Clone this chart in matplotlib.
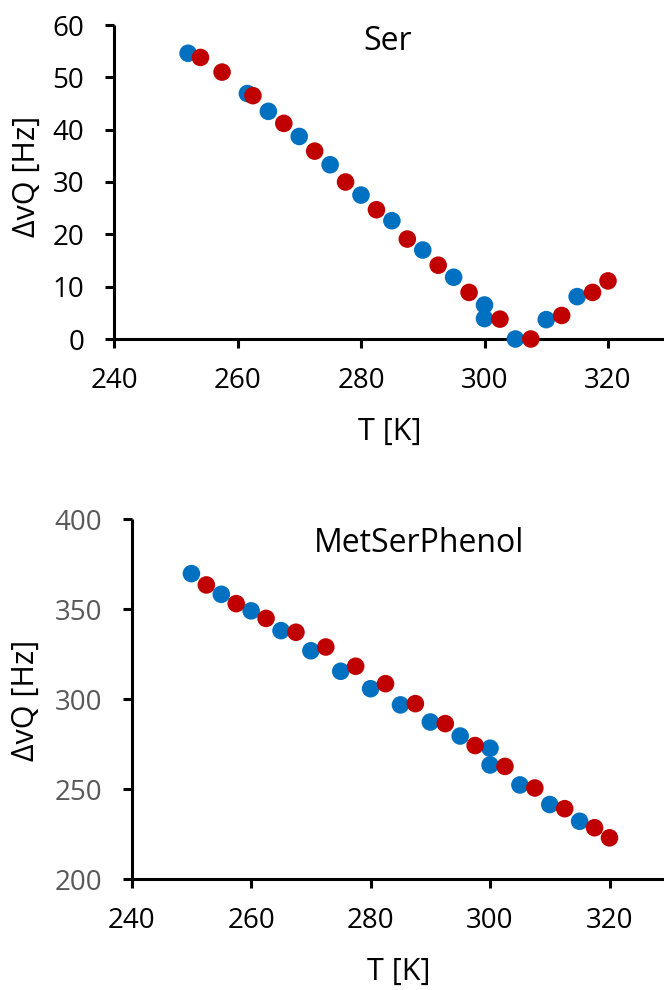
import matplotlib
matplotlib.use("Agg")
import matplotlib.pyplot as plt

# --- Ser data ---
ser_blue_T = [252.0, 261.6, 265.0, 270.0, 275.0, 280.0, 285.0, 290.0, 295.0, 300.0, 300.0, 305.0, 310.0, 315.0]
ser_blue_dv = [54.6, 46.9, 43.5, 38.7, 33.3, 27.5, 22.6, 17.0, 11.8, 6.5, 3.9, 0.0, 3.7, 8.1]
ser_red_T = [254.0, 257.5, 262.5, 267.5, 272.5, 277.5, 282.5, 287.5, 292.5, 297.5, 302.5, 307.5, 312.5, 317.5, 320.0]
ser_red_dv = [53.8, 51.0, 46.5, 41.2, 35.9, 30.0, 24.7, 19.1, 14.1, 8.9, 3.8, 0.0, 4.5, 8.9, 11.1]

# --- MetSerPhenol data ---
msp_blue_T = [250.0, 255.0, 260.0, 265.0, 270.0, 275.0, 280.0, 285.0, 290.0, 295.0, 300.0, 300.0, 305.0, 310.0, 315.0]
msp_blue_dv = [369.8, 358.3, 349.1, 338.1, 326.9, 315.5, 305.8, 296.8, 287.3, 279.5, 272.7, 263.4, 252.3, 241.4, 232.1]
msp_red_T = [252.5, 257.5, 262.5, 267.5, 272.5, 277.5, 282.5, 287.5, 292.5, 297.5, 302.5, 307.5, 312.5, 317.5, 320.0]
msp_red_dv = [363.5, 353.1, 344.9, 337.2, 329.0, 318.3, 308.6, 297.5, 286.4, 274.2, 262.6, 250.6, 239.1, 228.5, 222.9]

x_ticks = [240, 260, 280, 300, 320]
ser_yticks = [0, 10, 20, 30, 40, 50, 60]
msp_yticks = [200, 250, 300, 350, 400]

BLUE = "#0070C0"
RED = "#C00000"

plt.rcParams['font.family'] = ['Open Sans', 'DejaVu Sans']

W, H = 664, 990
fig = plt.figure(figsize=(W/100, H/100), dpi=100)

ax1 = fig.add_axes([114/W, 1-339/H, (W-114)/W, 314/H])
ax2 = fig.add_axes([131.7/W, 1-879/H, (W-131.7)/W, 359.7/H])

def style(ax, ytick_color):
    for s in ['top', 'right']:
        ax.spines[s].set_visible(False)
    for s in ['left', 'bottom']:
        ax.spines[s].set_linewidth(2.2)
        ax.spines[s].set_color('black')
        ax.spines[s].set_capstyle('butt')
    ax.tick_params(axis='both', direction='out', width=2.2, length=6.5, labelsize=20)
    ax.tick_params(axis='y', pad=15, labelcolor=ytick_color)
    ax.tick_params(axis='x', pad=13.5, labelcolor='black')
    ax.set_xticks(x_ticks)

ms = 160
ax1.scatter(ser_blue_T, ser_blue_dv, s=ms, color=BLUE, edgecolors='none', zorder=3, clip_on=False)
ax1.scatter(ser_red_T, ser_red_dv, s=ms, color=RED, edgecolors='none', zorder=4, clip_on=False)
ax1.set_xlim(240, 240 + (W-114)/6.175)
ax1.set_ylim(0, 60)
ax1.set_yticks(ser_yticks)
style(ax1, 'black')

ax2.scatter(msp_blue_T, msp_blue_dv, s=ms, color=BLUE, edgecolors='none', zorder=3, clip_on=False)
ax2.scatter(msp_red_T, msp_red_dv, s=ms, color=RED, edgecolors='none', zorder=4, clip_on=False)
ax2.set_xlim(240, 240 + (W-131.7)/5.9725)
ax2.set_ylim(200, 400)
ax2.set_yticks(msp_yticks)
style(ax2, '#595959')

def ftext(x, y, s, **kw):
    fig.text(x/W, 1-y/H, s, ha='center', va='center', **kw)

ftext(388, 42, "Ser", fontsize=23)
ftext(419, 544, "MetSerPhenol", fontsize=23)
ftext(390, 432, "T [K]", fontsize=22)
ftext(399, 972, "T [K]", fontsize=22)
ftext(27, 176, "ΔvQ [Hz]", fontsize=22, rotation=90)
ftext(26, 700, "ΔvQ [Hz]", fontsize=22, rotation=90)

fig.savefig("out.png", dpi=100)
